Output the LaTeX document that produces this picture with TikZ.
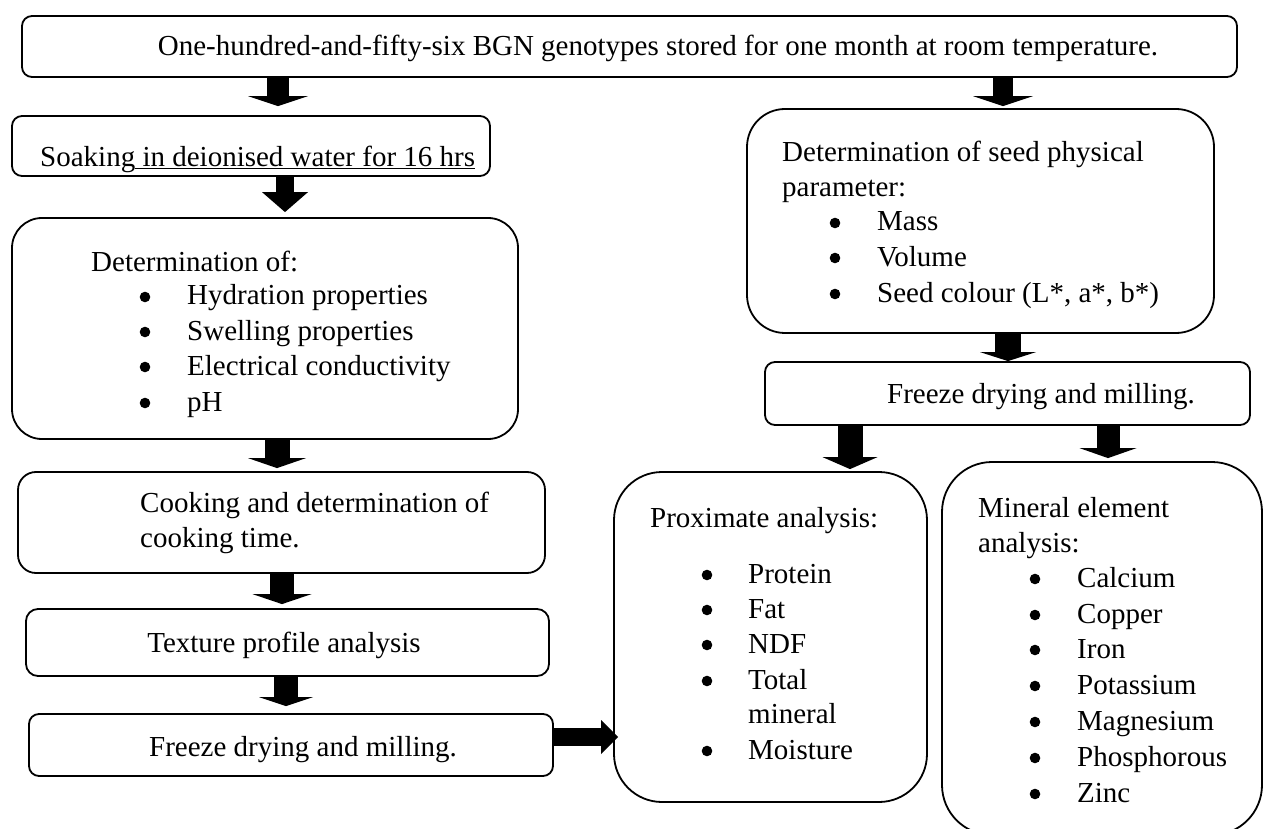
\RequirePackage{fix-cm}
\documentclass[tikz,border=0pt]{standalone}
\usepackage{fontspec}
\setmainfont{Liberation Serif}
\usetikzlibrary{arrows.meta}
\newcommand\myfs{\fontsize{29}{35}\selectfont}
\begin{document}
\begin{tikzpicture}[x=1pt,y=-1pt,
  box/.style={draw, line width=1.8pt, inner sep=0pt, rectangle},
  txt/.style={anchor=base west, inner sep=0pt, font=\myfs},
  blk/.style n args={3}{line width=#1, -{Triangle[length=#3, width=#2, line width=0pt]}},
  dotbullet/.style={fill=black}
]
\newcommand\mydot[2]{\fill[dotbullet] (#1,{#2-8}) circle[radius=5.3pt];}
\path[use as bounding box, clip] (0,0) rectangle (1264,829);
\fill[white] (0,0) rectangle (1264,829);

% boxes
\node[box, rounded corners=10pt, minimum width=1215pt, minimum height=61pt] (B0) at (629.5,46.5) {};
\node[box, rounded corners=10pt, minimum width=478pt, minimum height=60pt] (B1) at (251,146) {};
\node[box, rounded corners=30pt, minimum width=506pt, minimum height=221pt] (B2) at (265,328.5) {};
\node[box, rounded corners=18pt, minimum width=527pt, minimum height=101pt] (B3) at (281.5,522.5) {};
\node[box, rounded corners=12pt, minimum width=523pt, minimum height=67pt] (B4) at (287.5,642.5) {};
\node[box, rounded corners=10pt, minimum width=524pt, minimum height=62pt] (B5) at (291,745) {};
\node[box, rounded corners=38pt, minimum width=467pt, minimum height=224pt] (B6) at (980.5,221) {};
\node[box, rounded corners=10pt, minimum width=485pt, minimum height=63pt] (B7) at (1007.5,393.5) {};
\node[box, rounded corners=48pt, minimum width=313pt, minimum height=330pt] (B8) at (770.5,637) {};
\node[box, rounded corners=50pt, minimum width=320pt, minimum height=373pt] (B9) at (1102,648.5) {};

% texts
\node[txt, anchor=base] (T0) at (658,56) {One-hundred-and-fifty-six BGN genotypes stored for one month at room temperature.};
\node[txt] (T1) at (40,167) {Soaking\underline{\ in deionised water for 16 hrs}};
\node[txt] (T2) at (91,272) {Determination of:};
\node[txt] (T2a) at (187,305) {Hydration properties};
\node[txt] (T2b) at (187,340) {Swelling properties};
\node[txt] (T2c) at (187,375) {Electrical conductivity};
\node[txt] (T2d) at (187,411) {pH};
\node[txt] (T3a) at (140,512) {Cooking and determination of};
\node[txt] (T3b) at (140,547) {cooking time.};
\node[txt, anchor=base] (T4) at (284,652) {Texture profile analysis};
\node[txt] (T5) at (149,756) {Freeze drying and milling.};
\node[txt] (T6a) at (782,162) {Determination of seed physical};
\node[txt] (T6b) at (782,197) {parameter:};
\node[txt] (T6c) at (877,231) {Mass};
\node[txt] (T6d) at (877,266) {Volume};
\node[txt] (T6e) at (877,302) {Seed colour (L*, a*, b*)};
\node[txt] (T7) at (887,403) {Freeze drying and milling.};
\node[txt] (T8a) at (650,527) {Proximate analysis:};
\node[txt] (T8b) at (748,583) {Protein};
\node[txt] (T8c) at (748,618) {Fat};
\node[txt] (T8d) at (748,653) {NDF};
\node[txt] (T8e) at (748,689) {Total};
\node[txt] (T8f) at (748,723) {mineral};
\node[txt] (T8g) at (748,759) {Moisture};
\node[txt] (T9a) at (978,517) {Mineral element};
\node[txt] (T9b) at (978,552) {analysis:};
\node[txt] (T9c) at (1077,587) {Calcium};
\node[txt] (T9d) at (1077,623) {Copper};
\node[txt] (T9e) at (1077,658) {Iron};
\node[txt] (T9f) at (1077,694) {Potassium};
\node[txt] (T9g) at (1077,730) {Magnesium};
\node[txt] (T9h) at (1077,766) {Phosphorous};
\node[txt] (T9i) at (1077,802) {Zinc};

% bullets
\mydot{145}{305}\mydot{145}{340}\mydot{145}{375}\mydot{145}{411}
\mydot{835}{231}\mydot{835}{266}\mydot{835}{302}
\mydot{707}{583}\mydot{707}{618}\mydot{707}{653}\mydot{707}{689}\mydot{707}{759}
\mydot{1035}{587}\mydot{1035}{623}\mydot{1035}{658}\mydot{1035}{694}\mydot{1035}{730}\mydot{1035}{766}\mydot{1035}{802}

% arrow lines
\coordinate (xa1) at (278,0);
\coordinate (xa2) at (285,0);
\coordinate (xa3) at (277,0);
\coordinate (xa4) at (282,0);
\coordinate (xa5) at (286,0);
\coordinate (xr1) at (1003,0);
\coordinate (xr2) at (1008,0);
\coordinate (xr3) at (850,0);
\coordinate (xr4) at (1108,0);
\coordinate (yh) at (0,737);

\draw[blk={22pt}{60pt}{10pt}, shorten >=9pt] (B0.south -| xa1) -- (B1.north -| xa1);
\draw[blk={18pt}{46pt}{20pt}, shorten >=5pt] (B1.south -| xa2) -- (B2.north -| xa2);
\draw[blk={25pt}{58pt}{10pt}, shorten >=3pt] (B2.south -| xa3) -- (B3.north -| xa3);
\draw[blk={24pt}{59pt}{10pt}, shorten >=4pt] (B3.south -| xa4) -- (B4.north -| xa4);
\draw[blk={24pt}{54pt}{9pt}, shorten >=7pt] (B4.south -| xa5) -- (B5.north -| xa5);
\draw[blk={20pt}{60pt}{10pt}, shorten >=2pt] (B0.south -| xr1) -- (B6.north -| xr1);
\draw[blk={26pt}{56pt}{9pt}] (B6.south -| xr2) -- (B7.north -| xr2);
\draw[blk={25pt}{55pt}{12pt}, shorten >=2pt] (B7.south -| xr3) -- (B8.north -| xr3);
\draw[blk={23pt}{57pt}{10pt}, shorten >=3pt] (B7.south -| xr4) -- (B9.north -| xr4);
\draw[blk={18pt}{34pt}{17pt}, shorten >=-5pt] (B5.east |- yh) -- (B8.west |- yh);
\end{tikzpicture}
\end{document}
